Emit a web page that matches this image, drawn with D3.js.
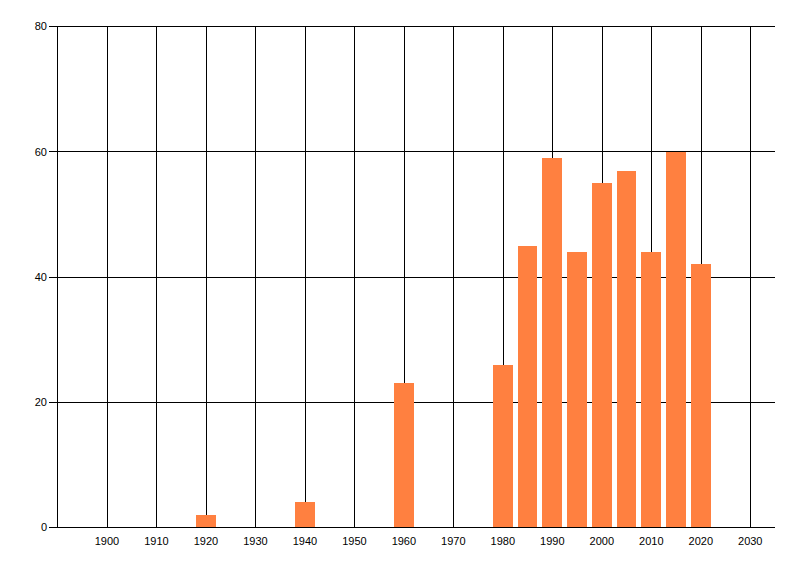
<!DOCTYPE html>
<html>
<head>
<meta charset="utf-8">
<script src="https://cdn.jsdelivr.net/npm/d3@7"></script>
<style>
html,body{margin:0;padding:0;background:#fff;}
svg{display:block;}
text{font-family:"Liberation Sans",Arial,sans-serif;font-size:11px;fill:#000;}
</style>
</head>
<body>
<svg id="chart" width="800" height="576"></svg>
<script>
const years = [1920, 1940, 1960, 1980, 1985, 1990, 1995, 2000, 2005, 2010, 2015, 2020];
const values = [2, 4, 23, 26, 45, 59, 44, 55, 57, 44, 60, 42];
const xTicks = [1900, 1910, 1920, 1930, 1940, 1950, 1960, 1970, 1980, 1990, 2000, 2010, 2020, 2030];
const yTicks = [0, 20, 40, 60, 80];

const svg = d3.select("#chart");
const x = d3.scaleLinear().domain([1890, 2035]).range([57.5, 775]);
const y = d3.scaleLinear().domain([0, 80]).range([527.5, 26.5]);

const g = svg.append("g").attr("shape-rendering", "crispEdges");

// vertical grid
g.selectAll(".vg").data(xTicks).enter().append("line")
  .attr("x1", d => Math.round(x(d)) + 0.5).attr("x2", d => Math.round(x(d)) + 0.5)
  .attr("y1", y(80)).attr("y2", y(0))
  .attr("stroke", "#000").attr("stroke-width", 1);

// horizontal grid (extends left as tick)
g.selectAll(".hg").data(yTicks).enter().append("line")
  .attr("x1", 49).attr("x2", 775)
  .attr("y1", d => Math.round(y(d) - 0.5) + 0.5).attr("y2", d => Math.round(y(d) - 0.5) + 0.5)
  .attr("stroke", "#000").attr("stroke-width", 1);

// left axis line
g.append("line")
  .attr("x1", 57.5).attr("x2", 57.5).attr("y1", y(80)).attr("y2", y(0))
  .attr("stroke", "#000");

// bars
const data = years.map((yr, i) => ({yr, v: values[i]}));
g.selectAll(".bar").data(data).enter().append("rect")
  .attr("x", d => x(d.yr - 2))
  .attr("width", d => x(d.yr + 2) - x(d.yr - 2))
  .attr("y", d => y(d.v))
  .attr("height", d => y(0) - y(d.v))
  .attr("fill", "#FF8040");

// baseline on top
g.append("line")
  .attr("x1", 49).attr("x2", 775).attr("y1", 527.5).attr("y2", 527.5)
  .attr("stroke", "#000");

// y labels
svg.selectAll(".yl").data(yTicks).enter().append("text")
  .attr("x", 47).attr("y", d => y(d)).attr("dy", "0.36em")
  .attr("text-anchor", "end").text(d => d);

// x labels
svg.selectAll(".xl").data(xTicks).enter().append("text")
  .attr("x", d => x(d)).attr("y", 545)
  .attr("text-anchor", "middle").text(d => d);
</script>
</body>
</html>
